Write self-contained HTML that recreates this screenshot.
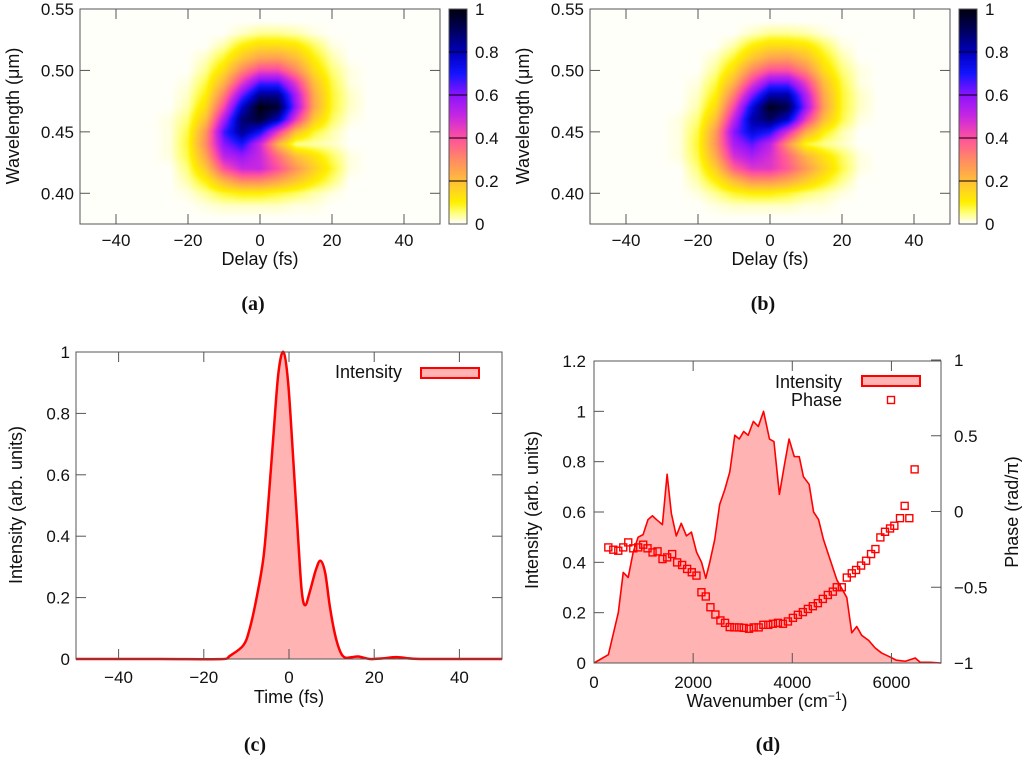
<!DOCTYPE html>
<html><head><meta charset="utf-8">
<style>
html,body{margin:0;padding:0;background:#fff;}
#root{position:relative;width:1024px;height:759px;overflow:hidden;font-family:"Liberation Sans",sans-serif;}
canvas{position:absolute;}
svg{position:absolute;left:0;top:0;}
</style></head>
<body>
<div id="root">
<canvas id="hmA"></canvas>
<canvas id="hmB"></canvas>
<canvas id="cbA"></canvas>
<canvas id="cbB"></canvas>
<svg id="svg" width="1024" height="759" xmlns="http://www.w3.org/2000/svg"></svg>
</div>
<script>
// ---------- heatmap data ----------
const hmDelays = [-30,-25,-20,-15,-10,-5,0,5,10,15,20,25,30];
const hmWavelengths = [0.53,0.52,0.51,0.50,0.49,0.48,0.47,0.46,0.45,0.44,0.43,0.42,0.41,0.40,0.39];
const heatA = [
[0,0,0,0,0,0.02,0.04,0.04,0.03,0.01,0,0,0],
[0,0,0,0,0.03,0.1,0.14,0.14,0.12,0.06,0.01,0,0],
[0,0,0,0.02,0.08,0.18,0.25,0.26,0.2,0.1,0.03,0,0],
[0,0,0,0.04,0.14,0.3,0.42,0.42,0.3,0.14,0.05,0.01,0],
[0,0,0.01,0.07,0.22,0.45,0.65,0.65,0.45,0.2,0.07,0.01,0],
[0,0,0.02,0.1,0.32,0.62,0.85,0.85,0.55,0.24,0.08,0.02,0],
[0,0,0.03,0.14,0.42,0.78,1.0,0.95,0.58,0.25,0.08,0.02,0],
[0,0.01,0.05,0.2,0.55,0.88,0.95,0.8,0.45,0.18,0.06,0.01,0],
[0,0.01,0.07,0.28,0.66,0.85,0.72,0.45,0.2,0.08,0.03,0,0],
[0,0.01,0.08,0.3,0.6,0.7,0.5,0.22,0.04,0.03,0.02,0,0],
[0,0.01,0.07,0.25,0.52,0.58,0.5,0.35,0.2,0.13,0.06,0.01,0],
[0,0,0.05,0.18,0.4,0.5,0.5,0.4,0.28,0.17,0.08,0.01,0],
[0,0,0.03,0.1,0.22,0.3,0.3,0.25,0.18,0.11,0.05,0,0],
[0,0,0.01,0.04,0.08,0.1,0.1,0.08,0.06,0.03,0.01,0,0],
[0,0,0,0.01,0.02,0.02,0.02,0.02,0.01,0.01,0,0,0]
];
const heatB = [
[0,0,0,0,0,0.02,0.04,0.04,0.03,0.01,0,0,0],
[0,0,0,0,0.03,0.1,0.14,0.14,0.12,0.06,0.01,0,0],
[0,0,0,0.02,0.08,0.18,0.25,0.26,0.2,0.1,0.03,0,0],
[0,0,0,0.04,0.14,0.3,0.4,0.4,0.3,0.14,0.05,0.01,0],
[0,0,0.01,0.07,0.22,0.44,0.62,0.62,0.44,0.2,0.07,0.01,0],
[0,0,0.02,0.1,0.32,0.6,0.82,0.82,0.54,0.24,0.08,0.02,0],
[0,0,0.03,0.14,0.42,0.75,0.98,0.92,0.58,0.26,0.08,0.02,0],
[0,0.01,0.05,0.2,0.52,0.82,0.9,0.78,0.45,0.2,0.07,0.01,0],
[0,0.01,0.07,0.27,0.6,0.76,0.7,0.48,0.24,0.1,0.03,0,0],
[0,0.01,0.08,0.28,0.55,0.64,0.52,0.28,0.08,0.04,0.02,0,0],
[0,0.01,0.07,0.24,0.48,0.55,0.48,0.36,0.22,0.13,0.06,0.01,0],
[0,0,0.05,0.17,0.37,0.46,0.46,0.38,0.27,0.16,0.07,0.01,0],
[0,0,0.03,0.1,0.2,0.28,0.28,0.24,0.17,0.1,0.04,0,0],
[0,0,0.01,0.04,0.08,0.1,0.1,0.08,0.05,0.03,0.01,0,0],
[0,0,0,0.01,0.02,0.02,0.02,0.02,0.01,0.01,0,0,0]
];
const hmXTicks = [-40,-20,0,20,40];
const hmYTicks = [0.40,0.45,0.50,0.55];
const cbTicks = [0,0.2,0.4,0.6,0.8,1];

// ---------- panel c data ----------
const timeT = [-50,-30,-15.4,-13.9,-10.7,-9.2,-7.6,-6.0,-4.9,-3.7,-2.5,-1.3,-0.2,1.0,2.2,3.0,3.8,4.9,6.3,7.4,8.5,9.6,10.8,12.0,13.1,14.8,16.3,19,22,25.3,29.2,35,50];
const timeI = [0,0,0,0.01,0.045,0.1,0.2,0.33,0.5,0.72,0.93,1.0,0.9,0.65,0.38,0.22,0.175,0.22,0.29,0.32,0.28,0.17,0.08,0.025,0.005,0.006,0.008,0,0.002,0.006,0.001,0,0];
const cXTicks = [-40,-20,0,20,40];
const cYTicks = [0,0.2,0.4,0.6,0.8,1];

// ---------- panel d data ----------
const specW = [0,290,490,590,690,790,890,990,1090,1180,1260,1380,1475,1560,1660,1760,1865,1965,2070,2170,2255,2335,2435,2535,2640,2740,2840,2930,3020,3110,3215,3315,3420,3540,3630,3740,3835,3935,4040,4140,4225,4340,4430,4530,4630,4765,4900,5100,5200,5300,5400,5540,5670,5800,5970,6100,6280,6480,6580,6780,7000];
const specI = [0,0.033,0.2,0.36,0.34,0.44,0.5,0.51,0.57,0.585,0.57,0.55,0.75,0.595,0.505,0.555,0.505,0.52,0.44,0.4,0.337,0.4,0.49,0.63,0.69,0.76,0.905,0.89,0.92,0.905,0.96,0.94,1.0,0.89,0.88,0.67,0.78,0.89,0.82,0.82,0.74,0.71,0.6,0.57,0.49,0.41,0.33,0.26,0.12,0.145,0.11,0.09,0.06,0.04,0.024,0.011,0.007,0.02,0.003,0.003,0];
const phaseW = [289,389,490,590,691,792,892,993,1080,1181,1282,1382,1476,1577,1677,1778,1879,1973,2067,2167,2255,2349,2449,2550,2644,2738,2832,2926,3020,3127,3221,3322,3416,3516,3610,3711,3811,3912,4013,4113,4214,4315,4415,4516,4616,4717,4818,4898,4999,5100,5200,5287,5388,5489,5589,5677,5777,5871,5972,6059,6173,6267,6361,6468];
const phaseV = [-0.237,-0.252,-0.259,-0.237,-0.204,-0.243,-0.237,-0.219,-0.243,-0.27,-0.263,-0.314,-0.303,-0.281,-0.336,-0.353,-0.379,-0.401,-0.423,-0.533,-0.561,-0.632,-0.68,-0.719,-0.735,-0.763,-0.765,-0.765,-0.768,-0.774,-0.765,-0.765,-0.748,-0.748,-0.741,-0.735,-0.741,-0.726,-0.702,-0.682,-0.664,-0.643,-0.625,-0.605,-0.577,-0.551,-0.529,-0.5,-0.5,-0.436,-0.408,-0.386,-0.357,-0.325,-0.281,-0.248,-0.171,-0.134,-0.112,-0.094,-0.044,0.037,-0.044,0.278];
const dXTicks = [0,2000,4000,6000];
const dYTicks = [0,0.2,0.4,0.6,0.8,1,1.2];
const dY2Ticks = [-1,-0.5,0,0.5,1];

// ---------- helpers ----------
const NS = "http://www.w3.org/2000/svg";
const svg = document.getElementById('svg');
function mk(tag, attrs, parent){ const e=document.createElementNS(NS,tag); for(const k in attrs) e.setAttribute(k,attrs[k]); (parent||svg).appendChild(e); return e; }
function lin(d0,d1,p0,p1){ return v => p0 + (v-d0)/(d1-d0)*(p1-p0); }
function fmt(v){ return (v<0?'\u2212':'') + Math.abs(v).toString(); }
function txt(x,y,s,anchor,size,name,extra){
  const t = mk('text',{x:x,y:y,'text-anchor':anchor||'middle','font-size':size||17,fill:'#111','font-family':'"Liberation Sans",sans-serif'});
  if(extra) for(const k in extra) t.setAttribute(k,extra[k]);
  t.textContent = s;
  
  
  return t;
}
const stops = [[0,[255,255,250]],[0.05,[255,255,120]],[0.1,[255,240,0]],[0.2,[255,190,60]],[0.3,[255,138,100]],[0.4,[255,80,160]],[0.5,[200,40,225]],[0.6,[140,20,255]],[0.7,[20,20,255]],[0.8,[0,0,190]],[0.9,[0,0,95]],[1.0,[0,0,15]]];
function cmap(v){ v=Math.max(0,Math.min(1,v)); for(let i=1;i<stops.length;i++){ if(v<=stops[i][0]){ const a=stops[i-1],b=stops[i]; const f=(v-a[0])/(b[0]-a[0]); return [0,1,2].map(k=>Math.round(a[1][k]+f*(b[1][k]-a[1][k]))); } } return stops[stops.length-1][1]; }

function sampleGrid(grid, d, w){
  const dx = (d-hmDelays[0])/(hmDelays[1]-hmDelays[0]);
  const dy = (hmWavelengths[0]-w)/(hmWavelengths[0]-hmWavelengths[1]);
  function g(r,c){ if(r<0||c<0||r>=grid.length||c>=grid[0].length) return 0; return grid[r][c]; }
  const c0=Math.floor(dx), r0=Math.floor(dy), fx=dx-c0, fy=dy-r0;
  return g(r0,c0)*(1-fx)*(1-fy)+g(r0,c0+1)*fx*(1-fy)+g(r0+1,c0)*(1-fx)*fy+g(r0+1,c0+1)*fx*fy;
}

function heatPanel(grid, ox, canvasId, cbId, tag){
  const L=80+ox, R=440+ox, T=9, B=224;
  const xs = lin(-50,50,L,R), ys = lin(0.375,0.55,B,T);
  const cv = document.getElementById(canvasId);
  cv.width=R-L; cv.height=B-T; cv.style.left=L+'px'; cv.style.top=T+'px';
  const ctx=cv.getContext('2d'); const im=ctx.createImageData(cv.width,cv.height);
  for(let py=0;py<cv.height;py++){ for(let px=0;px<cv.width;px++){
    const d=-50+(px+0.5)/(R-L)*100, w=0.55-(py+0.5)/(B-T)*0.175;
    const c=cmap(sampleGrid(grid,d,w)); const i=(py*cv.width+px)*4;
    im.data[i]=c[0];im.data[i+1]=c[1];im.data[i+2]=c[2];im.data[i+3]=255; } }
  ctx.putImageData(im,0,0);
  const g = mk('g',{});
  
  
  mk('rect',{x:L,y:T,width:R-L,height:B-T,fill:'none',stroke:'#555','stroke-width':1},g);
  hmXTicks.forEach(v=>{ const x=xs(v);
    mk('line',{x1:x,y1:B,x2:x,y2:B-10,stroke:'#555'},g); mk('line',{x1:x,y1:T,x2:x,y2:T+10,stroke:'#555'},g);
    txt(x,246,fmt(v),'middle',17,'x-tick-label-'+tag);
  });
  hmYTicks.forEach(v=>{ const y=ys(v);
    mk('line',{x1:L,y1:y,x2:L+10,y2:y,stroke:'#555'},g); mk('line',{x1:R,y1:y,x2:R-10,y2:y,stroke:'#555'},g);
    txt(L-6,y+6,v.toFixed(2),'end',17,'y-tick-label-'+tag);
  });
  txt(L+180,265,'Delay (fs)','middle',18,'x-axis-title-'+tag);
  txt(0,0,'Wavelength (\u03bcm)','middle',18,'y-axis-title-'+tag,{transform:'translate('+(L-61)+',116) rotate(-90)'});
  const cL=449+ox, cR=467+ox;
  const cb=document.getElementById(cbId); cb.width=cR-cL; cb.height=B-T; cb.style.left=cL+'px'; cb.style.top=T+'px';
  const cx=cb.getContext('2d');
  for(let py=0;py<cb.height;py++){ const c=cmap(1-py/(cb.height-1)); cx.fillStyle='rgb('+c.join(',')+')'; cx.fillRect(0,py,cb.width,1); }
  const cys=lin(0,1,B,T);
  mk('rect',{x:cL,y:T,width:cR-cL,height:B-T,fill:'none',stroke:'#555'},g);
  cbTicks.forEach(v=>{ const y=cys(v);
    if(v>0&&v<1) mk('line',{x1:cL,y1:y,x2:cR,y2:y,stroke:'#000','stroke-width':1},g);
    txt(cR+8,y+6,String(v),'start',17,'colorbar-tick-label-'+tag);
  });
  const cap = txt(L+173,310,'','middle',20,'caption-'+tag,{'font-family':'"Liberation Serif",serif','font-weight':'bold'});
  cap.textContent='('+tag+')';
}
heatPanel(heatA,0,'hmA','cbA','a');
heatPanel(heatB,510,'hmB','cbB','b');

// ---------- panel c ----------
(function(){
  const L=76, R=502, T=352, B=659;
  const xs=lin(-50,50,L,R), ys=lin(0,1,B,T);
  const g=mk('g',{});
  
  
  const P=timeT.map((t,i)=>[xs(t),ys(timeI[i])]);
  let d='M'+P[0][0]+','+P[0][1];
  for(let i=0;i<P.length-1;i++){ const p0=P[Math.max(0,i-1)],p1=P[i],p2=P[i+1],p3=P[Math.min(P.length-1,i+2)];
    const c1=[p1[0]+(p2[0]-p0[0])/6,p1[1]+(p2[1]-p0[1])/6], c2=[p2[0]-(p3[0]-p1[0])/6,p2[1]-(p3[1]-p1[1])/6];
    c1[0]=Math.min(Math.max(c1[0],p1[0]),p2[0]); c2[0]=Math.min(Math.max(c2[0],p1[0]),p2[0]);
    d+=' C'+c1[0]+','+c1[1]+' '+c2[0]+','+c2[1]+' '+p2[0]+','+p2[1]; }
  const fill=mk('path',{d:d+' L'+P[P.length-1][0]+','+B+' L'+P[0][0]+','+B+' Z',fill:'#ffb3b3',stroke:'none'},g);
  
  
  const line=mk('path',{d:d,fill:'none',stroke:'#f00','stroke-width':2.5,'stroke-linejoin':'round'},g);
  
  
  mk('rect',{x:L,y:T,width:R-L,height:B-T,fill:'none',stroke:'#555'},g);
  cXTicks.forEach(v=>{ const x=xs(v);
    mk('line',{x1:x,y1:B,x2:x,y2:B-10,stroke:'#555'},g); mk('line',{x1:x,y1:T,x2:x,y2:T+10,stroke:'#555'},g);
    txt(x,683,fmt(v),'middle',17,'x-tick-label-c'); });
  cYTicks.forEach(v=>{ const y=ys(v);
    mk('line',{x1:L,y1:y,x2:L+10,y2:y,stroke:'#555'},g); mk('line',{x1:R,y1:y,x2:R-10,y2:y,stroke:'#555'},g);
    txt(L-6,y+6,String(v),'end',17,'y-tick-label-c'); });
  txt(289,703,'Time (fs)','middle',18,'x-axis-title-c');
  txt(0,0,'Intensity (arb. units)','middle',18,'y-axis-title-c',{transform:'translate(22,505) rotate(-90)'});
  txt(402,378,'Intensity','end',18,'legend-label-c');
  const lb=mk('rect',{x:421,y:368,width:58,height:10,fill:'#ffb3b3',stroke:'#f00','stroke-width':2},g);
  
  
  txt(255,751,'(c)','middle',20,'caption-c',{'font-family':'"Liberation Serif",serif','font-weight':'bold'});
})();

// ---------- panel d ----------
(function(){
  const L=594, R=941, T=361, B=663;
  const xs=lin(0,7000,L,R), ys=lin(0,1.2,B,T), y2=lin(-1,1,663,360);
  const g=mk('g',{});
  
  
  const pts=specW.map((w,i)=>xs(w)+','+ys(specI[i])).join(' L');
  const fill=mk('path',{d:'M'+pts+' L'+xs(specW[specW.length-1])+','+B+' L'+xs(specW[0])+','+B+' Z',fill:'#ffb3b3',stroke:'none'},g);
  
  
  const line=mk('path',{d:'M'+pts,fill:'none',stroke:'#f00','stroke-width':1.6,'stroke-linejoin':'round'},g);
  
  
  phaseW.forEach((w,i)=>{
    const r=mk('rect',{x:xs(w)-3.5,y:y2(phaseV[i])-3.5,width:7,height:7,fill:'none',stroke:'#f00','stroke-width':1.4},g);
    
    
  });
  mk('rect',{x:L,y:T,width:R-L,height:B-T,fill:'none',stroke:'#555'},g);
  dXTicks.forEach(v=>{ const x=xs(v);
    mk('line',{x1:x,y1:B,x2:x,y2:B-10,stroke:'#555'},g); mk('line',{x1:x,y1:T,x2:x,y2:T+10,stroke:'#555'},g);
    txt(x,688,String(v),'middle',17,'x-tick-label-d'); });
  dYTicks.forEach(v=>{ const y=ys(v);
    mk('line',{x1:L,y1:y,x2:L+10,y2:y,stroke:'#555'},g);
    txt(L-8,y+6,String(v),'end',17,'y-tick-label-d'); });
  dY2Ticks.forEach(v=>{ const y=y2(v);
    mk('line',{x1:R,y1:y,x2:R-10,y2:y,stroke:'#555'},g);
    txt(R+13,y+6,fmt(v),'start',17,'y2-tick-label-d'); });
  const xt=txt(767,707,'Wavenumber (cm','middle',18,'x-axis-title-d');
  const sup=document.createElementNS(NS,'tspan'); sup.setAttribute('dy','-7'); sup.setAttribute('font-size','12'); sup.textContent='\u22121'; xt.appendChild(sup);
  const cl=document.createElementNS(NS,'tspan'); cl.setAttribute('dy','7'); cl.textContent=')'; xt.appendChild(cl);
  txt(0,0,'Intensity (arb. units)','middle',18,'y-axis-title-d',{transform:'translate(538,510) rotate(-90)'});
  txt(0,0,'Phase (rad/\u03c0)','middle',18,'y2-axis-title-d',{transform:'translate(1018,512) rotate(-90)'});
  txt(842,388,'Intensity','end',18,'legend-label-intensity-d');
  const lb=mk('rect',{x:862,y:376,width:58,height:10,fill:'#ffb3b3',stroke:'#f00','stroke-width':2},g);
  
  
  txt(842,406,'Phase','end',18,'legend-label-phase-d');
  const ls=mk('rect',{x:887.5,y:396.5,width:7,height:7,fill:'none',stroke:'#f00','stroke-width':1.4},g);
  
  
  txt(768,751,'(d)','middle',20,'caption-d',{'font-family':'"Liberation Serif",serif','font-weight':'bold'});
})();
</script>
</body></html>
